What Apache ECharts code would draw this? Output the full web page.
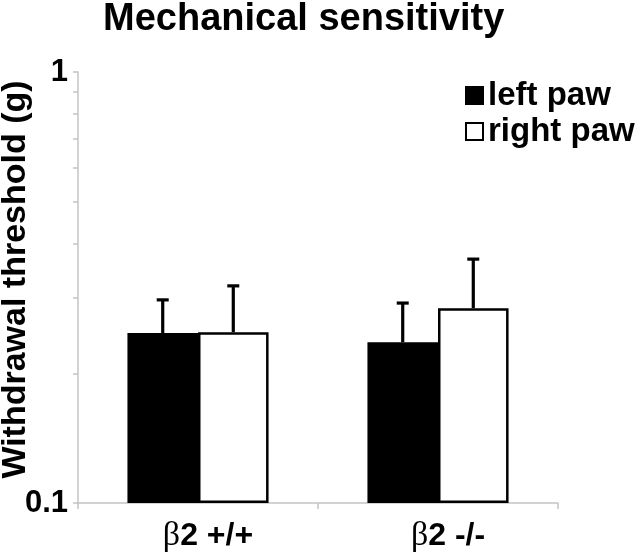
<!DOCTYPE html>
<html>
<head>
<meta charset="utf-8">
<script src="https://cdn.jsdelivr.net/npm/echarts@6/dist/echarts.min.js"></script>
<style>html,body{margin:0;padding:0;background:#fff}#c{width:640px;height:557px}</style>
</head>
<body>
<div id="c"></div>
<script>
var categories = ['+/+', '-/-'];
var leftPaw = [0.248, 0.236];
var rightPaw = [0.249, 0.283];
var leftPawErrTop = [0.296, 0.291];
var rightPawErrTop = [0.319, 0.368];
var yTickValues = [0.1, 0.2, 0.3, 0.4, 0.5, 0.6, 0.7, 0.8, 0.9, 1];
var yLabelValues = [0.1, 1];

var FONT = 'Liberation Sans';
var chart = echarts.init(document.getElementById('c'), null, {renderer: 'canvas'});

function errSeries(name, tops, side) {
  return {
    type: 'custom',
    name: name + ' err',
    z: 5,
    silent: true,
    data: tops.map(function (v, i) { return [i, v]; }),
    renderItem: function (params, api) {
      var i = api.value(0);
      var top = api.coord([i, api.value(1)]);
      var vals = side < 0 ? leftPaw : rightPaw;
      var base = api.coord([i, vals[i]]);
      var cw = api.size([1, 0])[0];
      var x = top[0] + side * cw * 0.147;
      var capHalf = 6;
      return {
        type: 'group',
        children: [
          {type: 'line', shape: {x1: x, y1: base[1], x2: x, y2: top[1]}, style: {stroke: '#000', lineWidth: 3.2}},
          {type: 'line', shape: {x1: x - capHalf, y1: top[1], x2: x + capHalf, y2: top[1]}, style: {stroke: '#000', lineWidth: 3.2}}
        ]
      };
    }
  };
}

chart.setOption({
  animation: false,
  backgroundColor: '#fff',
  title: {
    text: 'Mechanical sensitivity',
    left: 98,
    top: -4,
    textStyle: {fontFamily: FONT, fontWeight: 'bold', fontSize: 38, color: '#000'}
  },
  legend: {
    orient: 'vertical',
    left: 460,
    top: 74,
    itemWidth: 17,
    itemHeight: 17,
    itemGap: 3,
    icon: 'rect',
    data: ['left paw', 'right paw'],
    textStyle: {fontFamily: FONT, fontWeight: 'bold', fontSize: 33, color: '#000', padding: [0, 0, 0, 0]}
  },
  grid: {left: 78, right: 82, top: 72, bottom: 54, outerBoundsMode: 'none', containLabel: false},
  xAxis: {
    type: 'category',
    data: categories,
    axisLine: {lineStyle: {color: '#c4c4c4', width: 1.5}},
    axisTick: {show: true, length: 6, lineStyle: {color: '#c4c4c4', width: 1.5}},
    axisLabel: {
      margin: 16,
      padding: [0, 0, 0, 20],
      formatter: function (v) { return '{b|\u03b2}{n|2 ' + v + '}'; },
      rich: {
        b: {fontFamily: 'Liberation Serif', fontSize: 34, color: '#000'},
        n: {fontFamily: FONT, fontWeight: 'bold', fontSize: 32, color: '#000'}
      }
    }
  },
  yAxis: {
    type: 'log',
    logBase: 10,
    min: 0.1,
    max: 1,
    startValue: 0.1,
    name: 'Withdrawal threshold (g)',
    nameLocation: 'middle',
    nameGap: 45,
    nameMoveOverlap: false,
    nameTextStyle: {fontFamily: FONT, fontWeight: 'bold', fontSize: 34, color: '#000', padding: [0, 0, 0, 16]},
    axisLine: {show: true, lineStyle: {color: '#c4c4c4', width: 1.5}},
    axisTick: {show: true, length: 5, customValues: yTickValues, lineStyle: {color: '#c4c4c4', width: 1.5}},
    splitLine: {show: false},
    minorTick: {show: false},
    axisLabel: {
      customValues: yLabelValues,
      margin: 10,
      fontFamily: FONT, fontWeight: 'bold', fontSize: 31, color: '#000',
      formatter: function (v) { return String(+(+v).toPrecision(6)); }
    }
  },
  series: [
    {
      name: 'left paw', type: 'bar', data: leftPaw, barWidth: '29.4%', barGap: '0%',
      itemStyle: {color: '#000', borderColor: '#000', borderWidth: 2.5}
    },
    {
      name: 'right paw', type: 'bar', data: rightPaw, barWidth: '29.4%', barGap: '0%',
      itemStyle: {color: '#fff', borderColor: '#000', borderWidth: 2.5}
    },
    errSeries('left paw', leftPawErrTop, -1),
    errSeries('right paw', rightPawErrTop, 1)
  ]
});
</script>
</body>
</html>
